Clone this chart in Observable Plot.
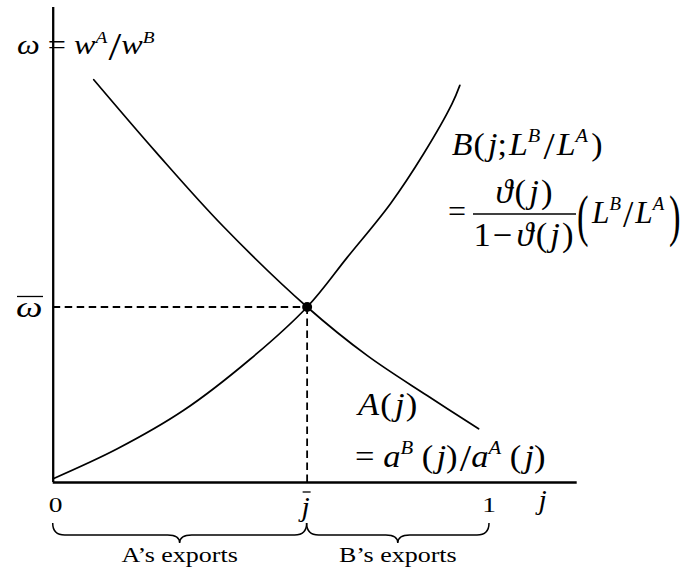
<!DOCTYPE html>
<html>
<head>
<meta charset="utf-8">
<script src="https://cdn.jsdelivr.net/npm/d3@7"></script>
<script src="https://cdn.jsdelivr.net/npm/@observablehq/plot@0.6"></script>
<style>
  html, body { margin: 0; padding: 0; background: #fff; }
  svg { display: block; }
</style>
</head>
<body>
<div id="chart"></div>
<script>
// ---- data ----
// A(j) = a^B(j)/a^A(j), decreasing schedule
const jA     = [0.093, 0.238, 0.390, 0.582, 0.720, 0.857, 0.975];
const omegaA = [0.848, 0.693, 0.539, 0.3695, 0.267, 0.183, 0.113];
// B(j; L^B/L^A), increasing schedule
const jB     = [0.000, 0.147, 0.299, 0.452, 0.582, 0.674, 0.773, 0.849, 0.914, 0.932];
const omegaB = [0.008, 0.071, 0.152, 0.260, 0.3695, 0.474, 0.587, 0.692, 0.797, 0.836];
// equilibrium
const jBar = 0.582;
const omegaBar = 0.3695;
// axis extents and tick labels
const xAxisEnd = 1.201;
const yAxisEnd = 1;
const xTicks = [0, 1];
const xTickLabels = ["0", "1"];
const braceLabels = ["A\u2019s exports", "B\u2019s exports"];

const aData = jA.map((j, i) => ({j, omega: omegaA[i]}));
const bData = jB.map((j, i) => ({j, omega: omegaB[i]}));

const FONT = '"Liberation Serif", "Times New Roman", serif';

const plot = Plot.plot({
  width: 697,
  height: 571,
  margin: 0,
  x: {domain: [0, 1], range: [52.7, 489], axis: null},
  y: {domain: [0, 1], range: [482, 7], axis: null},
  style: {background: "white", overflow: "visible"},
  marks: [
    Plot.ruleY([omegaBar], {x1: 0, x2: jBar, stroke: "black", strokeWidth: 1.8, strokeDasharray: "7.5,4.5"}),
    Plot.ruleX([jBar], {y1: 0, y2: omegaBar, stroke: "black", strokeWidth: 1.8, strokeDasharray: "7.5,4.5"}),
    Plot.line(bData, {x: "j", y: "omega", curve: "catmull-rom", stroke: "black", strokeWidth: 1.7}),
    Plot.line(aData, {x: "j", y: "omega", curve: "catmull-rom", stroke: "black", strokeWidth: 1.7}),
    Plot.ruleY([0], {x1: 0, x2: xAxisEnd, stroke: "black", strokeWidth: 2.3}),
    Plot.ruleX([0], {y1: 0, y2: yAxisEnd, stroke: "black", strokeWidth: 2.3}),
    Plot.dot([{j: jBar, omega: omegaBar}], {x: "j", y: "omega", r: 5, fill: "black", stroke: "none"})
  ]
});

document.getElementById("chart").appendChild(plot);

const X = plot.scale("x").apply;
const Y = plot.scale("y").apply;
const svg = d3.select(plot);
const g = svg.append("g").attr("fill", "black");

// parts: {t, i: italic, sup: superscript, sz: size, off: baseline offset, dx}
function mtext(x, y, parts, o = {}) {
  const size = o.size ?? 32, sx = o.sx ?? 1.08;
  const t = g.append("text")
    .attr("transform", `translate(${x},${y}) scale(${sx},1)`)
    .attr("text-anchor", o.anchor ?? "start")
    .style("font-family", FONT)
    .style("font-size", size + "px");
  let shift = 0;
  for (const p of parts) {
    const target = (p.sup ? -size * 0.4 : 0) + (p.off ?? 0);
    const ts = t.append("tspan").text(p.t)
      .attr("dy", target - shift)
      .style("font-style", p.i ? "italic" : "normal")
      .style("font-size", (p.sup ? size * 0.6 : (p.sz ?? size)) + "px");
    if (p.dx) ts.attr("dx", p.dx);
    shift = target;
  }
  return t;
}
function hline(x1, x2, y, w = 1.3) {
  g.append("line").attr("x1", x1).attr("x2", x2).attr("y1", y).attr("y2", y)
    .attr("stroke", "black").attr("stroke-width", w);
}
function brace(x1, x2, y, h, r) {
  const xm = (x1 + x2) / 2, yh = y + h * 0.6, yt = y + h;
  const d = `M${x1},${y} Q${x1},${yh} ${x1 + r},${yh} L${xm - r},${yh} Q${xm},${yh} ${xm},${yt}` +
            ` Q${xm},${yh} ${xm + r},${yh} L${x2 - r},${yh} Q${x2},${yh} ${x2},${y}`;
  g.append("path").attr("d", d).attr("fill", "none").attr("stroke", "black").attr("stroke-width", 1.5);
}

// y-axis title: ω = w^A / w^B
mtext(17, 54, [
  {t: "\u03c9", i: true}, {t: " = "}, {t: "w", i: true}, {t: "A", i: true, sup: true},
  {t: "/", sz: 40, off: 6, dx: 1}, {t: "w", i: true}, {t: "B", i: true, sup: true}
], {size: 28, sx: 1.15});

// ω̄ tick label
mtext(16, Y(omegaBar) + 11, [{t: "\u03c9", i: true}], {size: 30, sx: 1.25});
hline(17, 43, Y(omegaBar) - 10);

// x tick labels
xTicks.forEach((v, i) => mtext(X(v) + (i === 0 ? 3 : 0), Y(0) + 30, [{t: xTickLabels[i]}], {size: 22, sx: 1.25, anchor: "middle"}));
// j̄
mtext(X(jBar) - 1, Y(0) + 34, [{t: "j", i: true}], {size: 27, sx: 1.1, anchor: "middle"});
hline(X(jBar) - 4, X(jBar) + 4, Y(0) + 10);
// x-axis title j
mtext(X(xAxisEnd) - 34, Y(0) + 27, [{t: "j", i: true}], {size: 27, sx: 1.1, anchor: "middle"});

// braces + labels
brace(X(0), X(jBar), 523, 20, 12);
brace(X(jBar), X(1), 523, 20, 12);
mtext((X(0) + X(jBar)) / 2, 562, [{t: braceLabels[0]}], {size: 20, sx: 1.3, anchor: "middle"});
mtext((X(jBar) + X(1)) / 2, 562, [{t: braceLabels[1]}], {size: 20, sx: 1.3, anchor: "middle"});

// B label, line 1
mtext(451.7, 155, [
  {t: "B", i: true}, {t: "(", dx: 1}, {t: "j", i: true, dx: 3}, {t: ";"}, {t: "L", i: true, dx: 2},
  {t: "B", i: true, sup: true}, {t: "/", sz: 38, off: 4, dx: 3}, {t: "L", i: true, dx: 2},
  {t: "A", i: true, sup: true}, {t: ")", dx: 3}
], {size: 32, sx: 1.06});
// B label, line 2
mtext(448, 222, [{t: "="}], {size: 32, sx: 1.0});
hline(473, 576, 214, 1.4);
mtext(524, 203, [
  {t: "\u03d1", i: true}, {t: "(", dx: 2}, {t: "j", i: true, dx: 3}, {t: ")", dx: 2}
], {size: 33, sx: 1.05, anchor: "middle"});
mtext(523.5, 246, [
  {t: "1"}, {t: "\u2212", dx: 2}, {t: "\u03d1", i: true, dx: 4}, {t: "(", dx: 2},
  {t: "j", i: true, dx: 3}, {t: ")", dx: 2}
], {size: 33, sx: 1.05, anchor: "middle"});
mtext(577, 235, [{t: "("}], {size: 56, sx: 0.62});
mtext(592, 223, [
  {t: "L", i: true}, {t: "B", i: true, sup: true}, {t: "/", sz: 38, off: 4, dx: 2},
  {t: "L", i: true, dx: 2}, {t: "A", i: true, sup: true}
], {size: 32, sx: 0.98});
mtext(669, 235, [{t: ")"}], {size: 56, sx: 0.62});

// A label
mtext(358, 415, [
  {t: "A", i: true}, {t: "(", dx: 1}, {t: "j", i: true, dx: 3}, {t: ")", dx: 1}
], {size: 32, sx: 1.08});
mtext(355, 467, [
  {t: "= "}, {t: "a", i: true}, {t: "B", i: true, sup: true}, {t: " ("},
  {t: "j", i: true, dx: 3}, {t: ")"}, {t: "/", sz: 38, off: 4, dx: 2},
  {t: "a", i: true}, {t: "A", i: true, sup: true}, {t: " ("},
  {t: "j", i: true, dx: 3}, {t: ")"}
], {size: 32, sx: 1.08});
</script>
</body>
</html>
